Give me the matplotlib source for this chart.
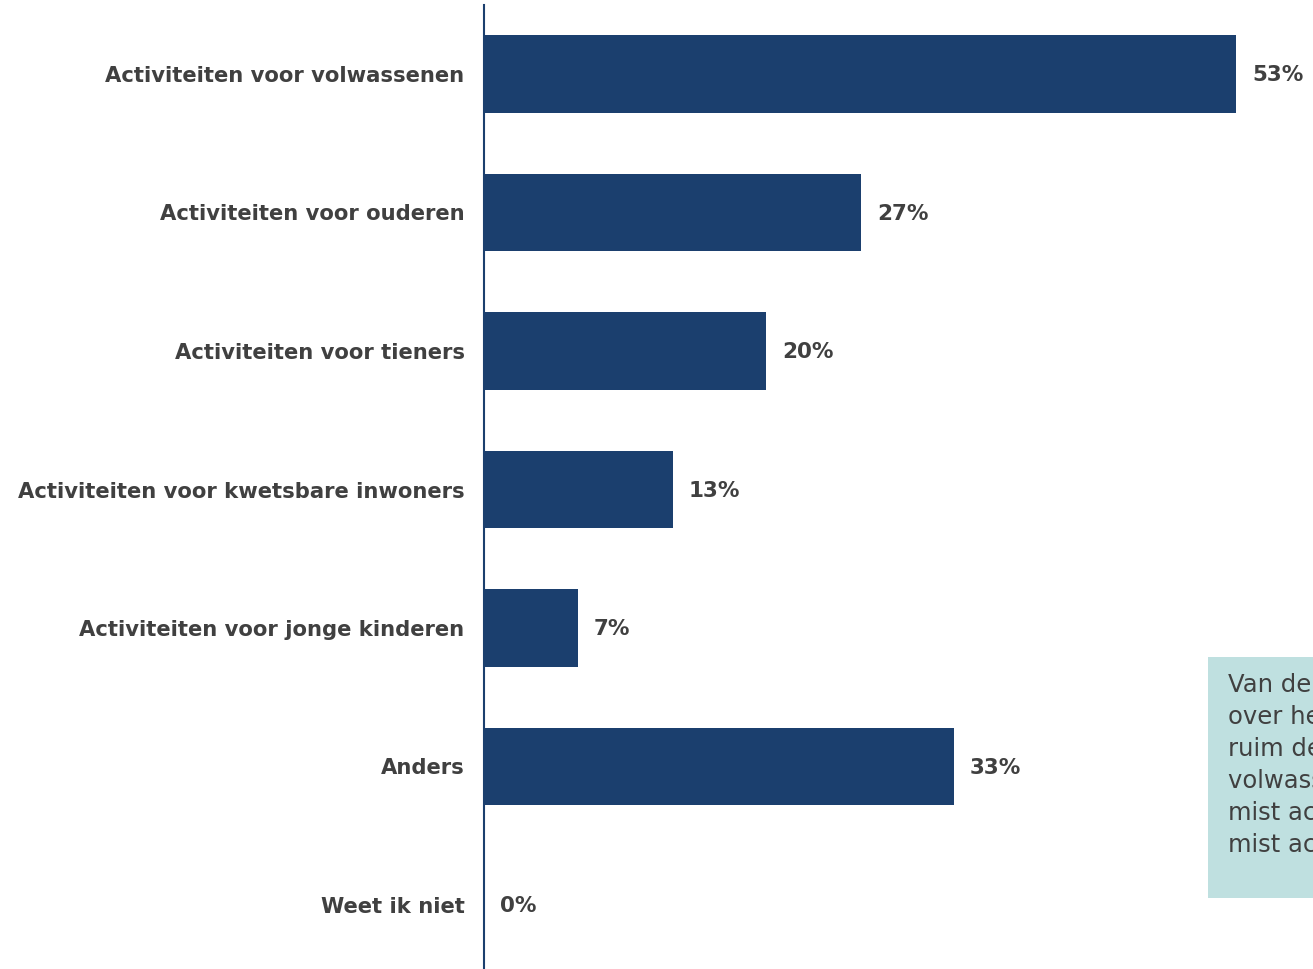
import matplotlib.pyplot as plt
from matplotlib.patches import Rectangle

categories = ['Activiteiten voor volwassenen', 'Activiteiten voor ouderen',
              'Activiteiten voor tieners', 'Activiteiten voor kwetsbare inwoners',
              'Activiteiten voor jonge kinderen', 'Anders', 'Weet ik niet']
values = [53.0, 26.6, 19.9, 13.3, 6.6, 33.1, 0.0]
note_lines = ['Van de inwoners die iets missen',
              'over het aanbod, mist',
              'ruim de helft activiteiten voor',
              'volwassenen. Ruim een kwart',
              'mist activiteiten voor ouderen,',
              'mist activiteiten voor tieners.']

W, H = 1313, 969
bar_color = '#1b3f6e'
text_color = '#404040'

fig = plt.figure(figsize=(W / 100, H / 100), dpi=100)
px_per = 752 / 53.0
left, right = 484, 1313
top, bottom = 4.75, 974.25
ax = fig.add_axes([left / W, (H - bottom) / H, (right - left) / W, (bottom - top) / H])

y = list(range(len(categories)))
ax.barh(y, values, height=0.563, color=bar_color)
ax.set_ylim(len(categories) - 0.5, -0.5)
ax.set_xlim(0, (right - left) / px_per)

for yi, v in zip(y, values):
    ax.text(v + 16 / px_per, yi + 0.01, '%.0f%%' % v, va='center', ha='left',
            fontsize=15.5, fontweight='bold', color=text_color)

ax.set_yticks(y)
ax.set_yticklabels(categories, fontsize=15.2, fontweight='bold', color=text_color)
ax.tick_params(axis='y', length=0, pad=14)
ax.set_xticks([])
for s in ['top', 'right', 'bottom']:
    ax.spines[s].set_visible(False)
ax.spines['left'].set_color(bar_color)
ax.spines['left'].set_linewidth(1.5)

# note box on the right, cut off by the figure edge
fig.patches.append(Rectangle((1208 / W, (H - 898) / H), 300 / W, (898 - 657) / H,
                             transform=fig.transFigure, facecolor='#bfe0e0',
                             edgecolor='none', zorder=0))
for i, line in enumerate(note_lines):
    fig.text(1228 / W, 1 - (685 + 32 * i) / H, line, fontsize=17.5,
             color=text_color, va='center', ha='left')

fig.savefig('out.png', dpi=100)
